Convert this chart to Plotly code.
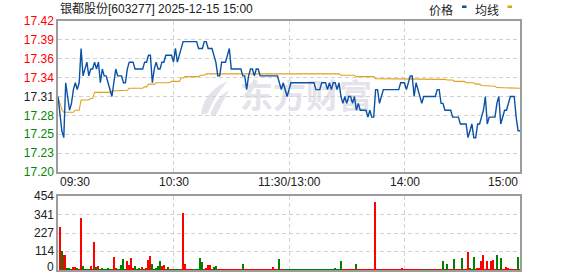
import plotly.graph_objects as go

# ---------------- data ----------------
minutes = list(range(241))
time_labels = ["09:30", "10:30", "11:30/13:00", "14:00", "15:00"]
time_ticks = [0, 60, 120, 180, 240]

price = [
    17.31, 17.28, 17.26, 17.25, 17.33, 17.31, 17.29, 17.30, 17.32, 17.33,
    17.32, 17.33, 17.38, 17.34, 17.35, 17.36, 17.34, 17.35, 17.35, 17.36,
    17.35, 17.36, 17.33, 17.35, 17.34, 17.34, 17.33, 17.32, 17.31, 17.33,
    17.35, 17.34, 17.34, 17.34, 17.33, 17.33, 17.35, 17.36, 17.36, 17.36,
    17.35, 17.35, 17.35, 17.35, 17.35, 17.36, 17.36, 17.37, 17.37, 17.33,
    17.35, 17.36, 17.35, 17.35, 17.36, 17.36, 17.37, 17.37, 17.37, 17.37,
    17.36, 17.38, 17.36, 17.37, 17.38, 17.39, 17.39, 17.39, 17.39, 17.39,
    17.39, 17.39, 17.39, 17.38, 17.38, 17.38, 17.39, 17.39, 17.38, 17.38,
    17.38, 17.37, 17.36, 17.34, 17.34, 17.36, 17.36, 17.36, 17.37, 17.38,
    17.35, 17.35, 17.35, 17.35, 17.35, 17.35, 17.34, 17.34, 17.32, 17.34,
    17.35, 17.35, 17.34, 17.35, 17.35, 17.34, 17.34, 17.34, 17.34, 17.34,
    17.34, 17.34, 17.34, 17.34, 17.34, 17.33, 17.32, 17.33, 17.32, 17.31,
    17.32, 17.33, 17.33, 17.33, 17.33, 17.33, 17.33, 17.33, 17.33, 17.33,
    17.33, 17.33, 17.33, 17.33, 17.32, 17.32, 17.32, 17.33, 17.33, 17.33,
    17.32, 17.33, 17.32, 17.33, 17.33, 17.32, 17.33, 17.31, 17.30, 17.31,
    17.30, 17.31, 17.31, 17.30, 17.31, 17.29, 17.30, 17.29, 17.29, 17.29,
    17.29, 17.28, 17.29, 17.28, 17.28, 17.32, 17.32, 17.30, 17.31, 17.32,
    17.32, 17.32, 17.32, 17.32, 17.32, 17.32, 17.32, 17.32, 17.33, 17.33,
    17.33, 17.32, 17.33, 17.34, 17.34, 17.31, 17.33, 17.32, 17.31, 17.30,
    17.31, 17.31, 17.31, 17.31, 17.31, 17.31, 17.31, 17.32, 17.32, 17.30,
    17.30, 17.29, 17.29, 17.29, 17.29, 17.28, 17.28, 17.28, 17.28, 17.27,
    17.27, 17.27, 17.27, 17.25, 17.26, 17.27, 17.25, 17.25, 17.27, 17.27,
    17.28, 17.29, 17.31, 17.27, 17.28, 17.28, 17.28, 17.28, 17.30, 17.31,
    17.27, 17.28, 17.29, 17.29, 17.30, 17.31, 17.31, 17.31, 17.28, 17.26,
    17.26,
]

avg_price = [
    17.309, 17.298, 17.291, 17.287, 17.287, 17.287, 17.287, 17.287, 17.287, 17.290,
    17.290, 17.290, 17.305, 17.305, 17.305, 17.305, 17.305, 17.307, 17.307, 17.316,
    17.316, 17.316, 17.316, 17.316, 17.316, 17.316, 17.316, 17.316, 17.318, 17.318,
    17.318, 17.318, 17.318, 17.319, 17.319, 17.319, 17.319, 17.322, 17.322, 17.322,
    17.322, 17.322, 17.322, 17.322, 17.322, 17.324, 17.324, 17.328, 17.328, 17.328,
    17.328, 17.330, 17.330, 17.330, 17.330, 17.330, 17.330, 17.330, 17.330, 17.332,
    17.332, 17.332, 17.332, 17.332, 17.337, 17.337, 17.339, 17.339, 17.339, 17.339,
    17.339, 17.339, 17.339, 17.339, 17.341, 17.341, 17.341, 17.343, 17.343, 17.343,
    17.343, 17.343, 17.343, 17.343, 17.343, 17.343, 17.343, 17.343, 17.343, 17.343,
    17.343, 17.343, 17.343, 17.343, 17.343, 17.343, 17.343, 17.343, 17.343, 17.343,
    17.343, 17.343, 17.343, 17.343, 17.343, 17.343, 17.343, 17.343, 17.343, 17.343,
    17.343, 17.343, 17.343, 17.343, 17.343, 17.343, 17.343, 17.343, 17.343, 17.343,
    17.343, 17.343, 17.343, 17.343, 17.343, 17.343, 17.343, 17.343, 17.343, 17.343,
    17.343, 17.343, 17.343, 17.343, 17.343, 17.343, 17.343, 17.343, 17.343, 17.343,
    17.343, 17.343, 17.343, 17.343, 17.343, 17.343, 17.343, 17.341, 17.341, 17.341,
    17.341, 17.341, 17.341, 17.341, 17.341, 17.339, 17.339, 17.339, 17.339, 17.339,
    17.339, 17.339, 17.339, 17.339, 17.339, 17.336, 17.336, 17.336, 17.336, 17.336,
    17.336, 17.336, 17.336, 17.336, 17.336, 17.336, 17.336, 17.336, 17.336, 17.336,
    17.336, 17.336, 17.336, 17.335, 17.335, 17.335, 17.335, 17.335, 17.335, 17.335,
    17.335, 17.335, 17.335, 17.335, 17.335, 17.335, 17.335, 17.335, 17.335, 17.335,
    17.335, 17.335, 17.334, 17.334, 17.334, 17.334, 17.332, 17.332, 17.332, 17.332,
    17.332, 17.332, 17.330, 17.330, 17.330, 17.330, 17.330, 17.328, 17.328, 17.328,
    17.326, 17.326, 17.326, 17.326, 17.325, 17.325, 17.325, 17.325, 17.323, 17.323,
    17.323, 17.322, 17.322, 17.322, 17.322, 17.322, 17.322, 17.322, 17.322, 17.322,
    17.322,
]

volume = [
    0, 265, 117, 92, 92, 5, 5, 3, 14, 18,
    10, 4, 320, 25, 4, 3, 4, 25, 4, 168,
    18, 25, 4, 5, 4, 4, 5, 4, 4, 76,
    12, 4, 3, 31, 68, 4, 55, 31, 74, 12,
    25, 4, 5, 4, 18, 4, 12, 62, 86, 37,
    4, 5, 25, 55, 25, 31, 4, 14, 4, 4,
    3, 4, 4, 4, 4, 351, 37, 4, 4, 4,
    4, 4, 4, 4, 74, 49, 4, 5, 31, 31,
    4, 14, 25, 4, 4, 4, 4, 4, 4, 4,
    4, 4, 4, 4, 4, 4, 37, 4, 4, 4,
    4, 4, 4, 4, 4, 4, 4, 4, 4, 4,
    4, 4, 18, 4, 4, 68, 4, 4, 4, 4,
    4, 4, 4, 4, 4, 4, 4, 4, 4, 4,
    4, 4, 4, 4, 4, 4, 4, 4, 4, 4,
    4, 4, 4, 4, 12, 4, 4, 55, 4, 4,
    4, 4, 4, 4, 4, 37, 4, 4, 4, 4,
    4, 4, 4, 4, 4, 419, 4, 4, 4, 4,
    4, 4, 4, 4, 4, 4, 4, 4, 4, 12,
    4, 4, 4, 4, 4, 4, 4, 4, 4, 4,
    4, 4, 4, 4, 4, 4, 4, 4, 4, 4,
    55, 4, 37, 4, 4, 4, 68, 4, 4, 4,
    74, 4, 4, 111, 12, 4, 80, 4, 10, 12,
    55, 92, 4, 55, 4, 55, 62, 4, 92, 4,
    74, 4, 4, 18, 12, 4, 4, 4, 4, 80,
    4,
]

# r = up tick (red), g = down tick (green)
vol_dir = (
    "grgrrgggrr" "grrggggrgr"
    "grgggggggr" "rgggggrrrr"
    "ggggrgrrrg" "ggggrrrgrg"
    "rgggrrrrrr" "rgggggrrrr"
    "rggrrrrrrr" "rrrrrrgrrr"
    "rrrrrrrrrr" "rrrrrgrrgg"
    "gggggggggg" "gggggggggg"
    "ggggggggrr" "rrrrrgrrrr"
    "rrrrrrrrgr" "rrrrrrrrrr"
    "rrrrrrrrrr" "ggrgrrrgrr"
    "grgrrrgrrr" "grrrggggrr"
    "rrrrrrrrgr" "grrrrrrrrg"
    "r"
)

price_ticks = [17.20, 17.2275, 17.255, 17.2825, 17.31, 17.3375, 17.365, 17.3925, 17.42]
price_tick_text = ["17.20", "17.23", "17.25", "17.28", "17.31", "17.34", "17.36", "17.39", "17.42"]
pct_tick_text = ["0.64%", "0.48%", "0.32%", "0.16%", "0.00%", "0.16%", "0.32%", "0.48%", "0.64%"]
vol_ticks = [0, 114, 227, 341, 454]
vol_tick_text = ["0", "114", "227", "341", "454"]

title_text = "银都股份[603277] 2025-12-15 15:00"
legend_price = "价格"
legend_avg = "均线"
watermark = "东方财富"

# ---------------- style ----------------
RED = "#ff0000"
GREEN = "#008800"
DARK = "#222222"
BLUE = "#0a52a6"
GOLD = "#e0a01c"
FRAME = "#9c9c9c"
GRID = "#d2d2d2"
WM = "#e3e3e9"
FONT = "Liberation Sans, Arial, Noto Sans CJK SC, sans-serif"

W, H = 578, 276
ML, MR, MT, MB = 58, 58, 21, 6
PW, PH = W - ML - MR, H - MT - MB


def px(x):
    return (x - ML) / PW


def py(y):
    return (H - MB - y) / PH


def colored(texts, ticks, mid):
    out = []
    for t, v in zip(texts, ticks):
        if abs(v - mid) < 1e-9:
            c = DARK
        elif v > mid:
            c = RED
        else:
            c = GREEN
        out.append(f'<span style="color:{c}">{t}</span>')
    return out


prev_close = price_ticks[4]
left_text = colored(price_tick_text, price_ticks, prev_close)
right_text = colored(pct_tick_text, price_ticks, prev_close)

bar_colors = ["#ff0000" if d == "r" else "#008000" for d in vol_dir]

fig = go.Figure()

fig.add_trace(go.Scatter(
    x=minutes, y=avg_price, mode="lines", line=dict(color=GOLD, width=1.1),
    xaxis="x", yaxis="y", hoverinfo="skip", showlegend=False,
))
fig.add_trace(go.Scatter(
    x=minutes, y=price, mode="lines", line=dict(color=BLUE, width=1.4),
    xaxis="x", yaxis="y", hoverinfo="skip", showlegend=False,
))
fig.add_trace(go.Bar(
    x=minutes, y=volume, marker=dict(color=bar_colors, line=dict(width=0)),
    width=0.75, xaxis="x2", yaxis="y3", hoverinfo="skip", showlegend=False,
))

main_dom = [py(172), 1.0]
vol_dom = [0.0, py(196.3)]

axis_common = dict(
    showline=True, linecolor=FRAME, linewidth=1.5, mirror=True,
    zeroline=False, ticks="", automargin=False,
)
grid_common = dict(showgrid=True, gridcolor=GRID, griddash="4px,3px", gridwidth=1)

fig.update_layout(
    width=W, height=H,
    margin=dict(l=ML, r=MR, t=MT, b=MB, autoexpand=False),
    paper_bgcolor="white", plot_bgcolor="white",
    font=dict(family=FONT, size=12, color=DARK),
    bargap=0,
    xaxis=dict(
        domain=[0, 1], range=[0, 240], anchor="y",
        tickvals=time_ticks[1:-1], showticklabels=False,
        **grid_common, **axis_common,
    ),
    yaxis=dict(
        domain=main_dom, range=[price_ticks[0], price_ticks[-1]], anchor="x",
        tickvals=price_ticks, ticktext=left_text,
        tickfont=dict(size=12, family=FONT), ticklabeloverflow="allow",
        **grid_common, **axis_common,
    ),
    yaxis2=dict(
        domain=main_dom, range=[price_ticks[0], price_ticks[-1]], anchor="x",
        overlaying="y", side="right",
        tickvals=price_ticks, ticktext=right_text,
        showgrid=False, showline=False, zeroline=False, ticks="", automargin=False,
        tickfont=dict(size=12, family=FONT), ticklabeloverflow="allow",
    ),
    xaxis2=dict(
        domain=[0, 1], range=[0, 240], anchor="y3", matches="x",
        tickvals=time_ticks[1:-1], showticklabels=False,
        **grid_common, **axis_common,
    ),
    yaxis3=dict(
        domain=vol_dom, range=[0, vol_ticks[-1]], anchor="x2",
        tickvals=vol_ticks, showticklabels=False,
        **grid_common, **axis_common,
    ),
)

# volume axis labels, placed in paper space at the pixel rows of the volume scale
# (the bottom label is lifted slightly so that its text box stays inside the page)
vol_top_px, vol_bot_px = 196.3, 269.6
for v, lab in zip(vol_ticks, vol_tick_text):
    ypix = vol_bot_px - (vol_bot_px - vol_top_px) * v / vol_ticks[-1]
    ypix = min(ypix, 266.5)
    fig.add_annotation(
        x=px(54.5), xref="paper", y=py(ypix), yref="paper", text=lab, showarrow=False,
        xanchor="right", yanchor="middle", borderpad=0,
        font=dict(size=12, family=FONT, color=DARK),
    )

# time labels under the price panel
anchors = ["left", "center", "center", "center", "right"]
for t, lab, anc in zip(time_ticks, time_labels, anchors):
    fig.add_annotation(
        x=t, xref="x", y=py(182), yref="paper", text=lab, showarrow=False,
        xanchor=anc, yanchor="middle", font=dict(size=12, family=FONT, color=DARK),
    )

# title
fig.add_annotation(
    x=0, xref="paper", y=py(8.5), yref="paper", text=title_text, showarrow=False,
    xanchor="left", yanchor="middle",
    font=dict(size=12, family="Liberation Sans, Noto Sans CJK SC, sans-serif", color=DARK),
)

# legend
fig.add_annotation(
    x=px(455), xref="paper", y=py(9), yref="paper", text=legend_price, showarrow=False,
    xanchor="right", yanchor="middle",
    font=dict(size=12, family="Noto Sans CJK SC, sans-serif", color=DARK),
)
fig.add_annotation(
    x=px(501), xref="paper", y=py(9), yref="paper", text=legend_avg, showarrow=False,
    xanchor="right", yanchor="middle",
    font=dict(size=12, family="Noto Sans CJK SC, sans-serif", color=DARK),
)
fig.add_shape(type="rect", xref="paper", yref="paper",
              x0=px(462), x1=px(466.5), y0=py(8), y1=py(5.5),
              fillcolor=BLUE, line=dict(width=0))
fig.add_shape(type="rect", xref="paper", yref="paper",
              x0=px(507.5), x1=px(512), y0=py(8), y1=py(5.5),
              fillcolor=GOLD, line=dict(width=0))

# watermark (logo + text), beneath the grid
leaf = (f"M {px(201)},{py(115)} Q {px(203)},{py(92)} {px(228)},{py(81)} "
        f"Q {px(214)},{py(96)} {px(208)},{py(113)} Z")
fig.add_shape(type="path", xref="paper", yref="paper", path=leaf,
              fillcolor=WM, line=dict(width=0), layer="below")
leaf2 = (f"M {px(210)},{py(115)} Q {px(216)},{py(97)} {px(229)},{py(90)} "
         f"Q {px(222)},{py(103)} {px(216)},{py(115)} Z")
fig.add_shape(type="path", xref="paper", yref="paper", path=leaf2,
              fillcolor=WM, line=dict(width=0), layer="below")
fig.add_shape(type="rect", xref="paper", yref="paper",
              x0=px(236), x1=px(376), y0=py(116), y1=py(82),
              line=dict(width=0), fillcolor="rgba(0,0,0,0)", layer="below",
              label=dict(text=watermark, font=dict(size=33, color=WM,
                                                    family="Noto Sans CJK SC, sans-serif",
                                                    weight="bold"),
                         textposition="middle center"))

fig.write_html("out.html")
